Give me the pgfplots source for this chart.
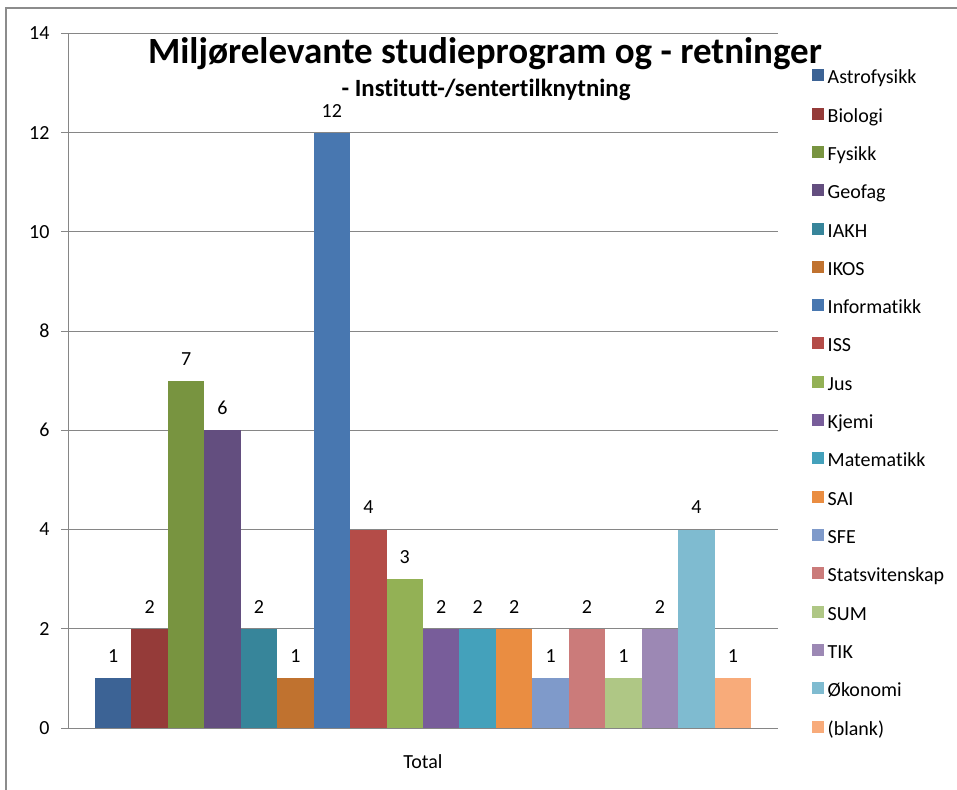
\documentclass[border=0pt]{standalone}
\usepackage{fontspec}
\setmainfont{Carlito}[Ligatures=NoCommon]
\usepackage{pgfplots}
\pgfplotsset{compat=1.18}

\definecolor{c1}{HTML}{3C6395}
\definecolor{c2}{HTML}{953B39}
\definecolor{c3}{HTML}{789440}
\definecolor{c4}{HTML}{634E7F}
\definecolor{c5}{HTML}{37859A}
\definecolor{c6}{HTML}{C0722F}
\definecolor{c7}{HTML}{4877B0}
\definecolor{c8}{HTML}{B44C48}
\definecolor{c9}{HTML}{93B155}
\definecolor{c10}{HTML}{785D9A}
\definecolor{c11}{HTML}{44A1BB}
\definecolor{c12}{HTML}{EA8D41}
\definecolor{c13}{HTML}{7F9ACA}
\definecolor{c14}{HTML}{CB7B7A}
\definecolor{c15}{HTML}{AFC785}
\definecolor{c16}{HTML}{9C88B4}
\definecolor{c17}{HTML}{7FBBD0}
\definecolor{c18}{HTML}{F8AB7A}
\definecolor{axgray}{HTML}{868686}
\definecolor{framegray}{HTML}{8C8C8C}

\begin{document}
\begin{tikzpicture}
\useasboundingbox (0pt,0pt) rectangle (957pt,789pt);
\draw[framegray, line width=2pt] (5.5pt,-5pt) -- (5.5pt,780.5pt) -- (962pt,780.5pt);

\begin{axis}[
    at={(68pt,61pt)}, anchor=south west,
    scale only axis,
    width=710pt, height=694.7pt,
    ybar=0pt, bar width=36.45pt,
    xmin=-1, xmax=1,
    ymin=0, ymax=14,
    ytick={0,2,...,14},
    xtick={0}, xticklabels={Total},
    extra x ticks={-1,1}, extra x tick labels={},
    extra x tick style={major tick length=6pt, tick style={axgray, line width=0.8pt}},
    axis x line*=bottom, axis y line*=left,
    axis line style={axgray, line width=0.8pt},
    tick align=outside,
    major tick length=7pt,
    ytick style={axgray, line width=0.8pt},
    xtick style={draw=none},
    ymajorgrids, grid style={axgray, line width=0.8pt},
    /pgf/number format/assume math mode=true,
    tick label style={font=\fontsize{20}{24}\selectfont, black},
    yticklabel style={xshift=-8pt},
    xticklabel style={yshift=-16pt},
    nodes near coords,
    every node near coord/.append style={font=\fontsize{20}{24}\selectfont, black, yshift=12pt},
    legend cell align=left,
    legend image code/.code={\fill[#1, draw=none] (0pt,-2.5pt) rectangle (12pt,9.5pt);},
    legend style={at={(axis description cs:1.043,0.9512)}, anchor=north west,
        draw=none, fill=none, font=\fontsize{20}{24}\selectfont,
        row sep=19.8pt, column sep=4pt,
        nodes={inner sep=0pt, text height=14pt, text depth=4pt}},
]
\addplot[fill=c1, draw=none] coordinates {(0,1)};
\addlegendentry{Astrofysikk}
\addplot[fill=c2, draw=none] coordinates {(0,2)};
\addlegendentry{Biologi}
\addplot[fill=c3, draw=none] coordinates {(0,7)};
\addlegendentry{Fysikk}
\addplot[fill=c4, draw=none] coordinates {(0,6)};
\addlegendentry{Geofag}
\addplot[fill=c5, draw=none] coordinates {(0,2)};
\addlegendentry{IAKH}
\addplot[fill=c6, draw=none] coordinates {(0,1)};
\addlegendentry{IKOS}
\addplot[fill=c7, draw=none] coordinates {(0,12)};
\addlegendentry{Informatikk}
\addplot[fill=c8, draw=none] coordinates {(0,4)};
\addlegendentry{ISS}
\addplot[fill=c9, draw=none] coordinates {(0,3)};
\addlegendentry{Jus}
\addplot[fill=c10, draw=none] coordinates {(0,2)};
\addlegendentry{Kjemi}
\addplot[fill=c11, draw=none] coordinates {(0,2)};
\addlegendentry{Matematikk}
\addplot[fill=c12, draw=none] coordinates {(0,2)};
\addlegendentry{SAI}
\addplot[fill=c13, draw=none] coordinates {(0,1)};
\addlegendentry{SFE}
\addplot[fill=c14, draw=none] coordinates {(0,2)};
\addlegendentry{Statsvitenskap}
\addplot[fill=c15, draw=none] coordinates {(0,1)};
\addlegendentry{SUM}
\addplot[fill=c16, draw=none] coordinates {(0,2)};
\addlegendentry{TIK}
\addplot[fill=c17, draw=none] coordinates {(0,4)};
\addlegendentry{Økonomi}
\addplot[fill=c18, draw=none] coordinates {(0,1)};
\addlegendentry{(blank)}
\end{axis}

\node[anchor=base, font=\fontsize{37}{41}\bfseries\selectfont, inner sep=0pt] at (485pt,725pt) {Miljørelevante studieprogram og - retninger};
\node[anchor=base, font=\fontsize{24.8}{28}\bfseries\selectfont, inner sep=0pt] at (486pt,692pt) {- Institutt-/sentertilknytning};
\end{tikzpicture}
\end{document}
